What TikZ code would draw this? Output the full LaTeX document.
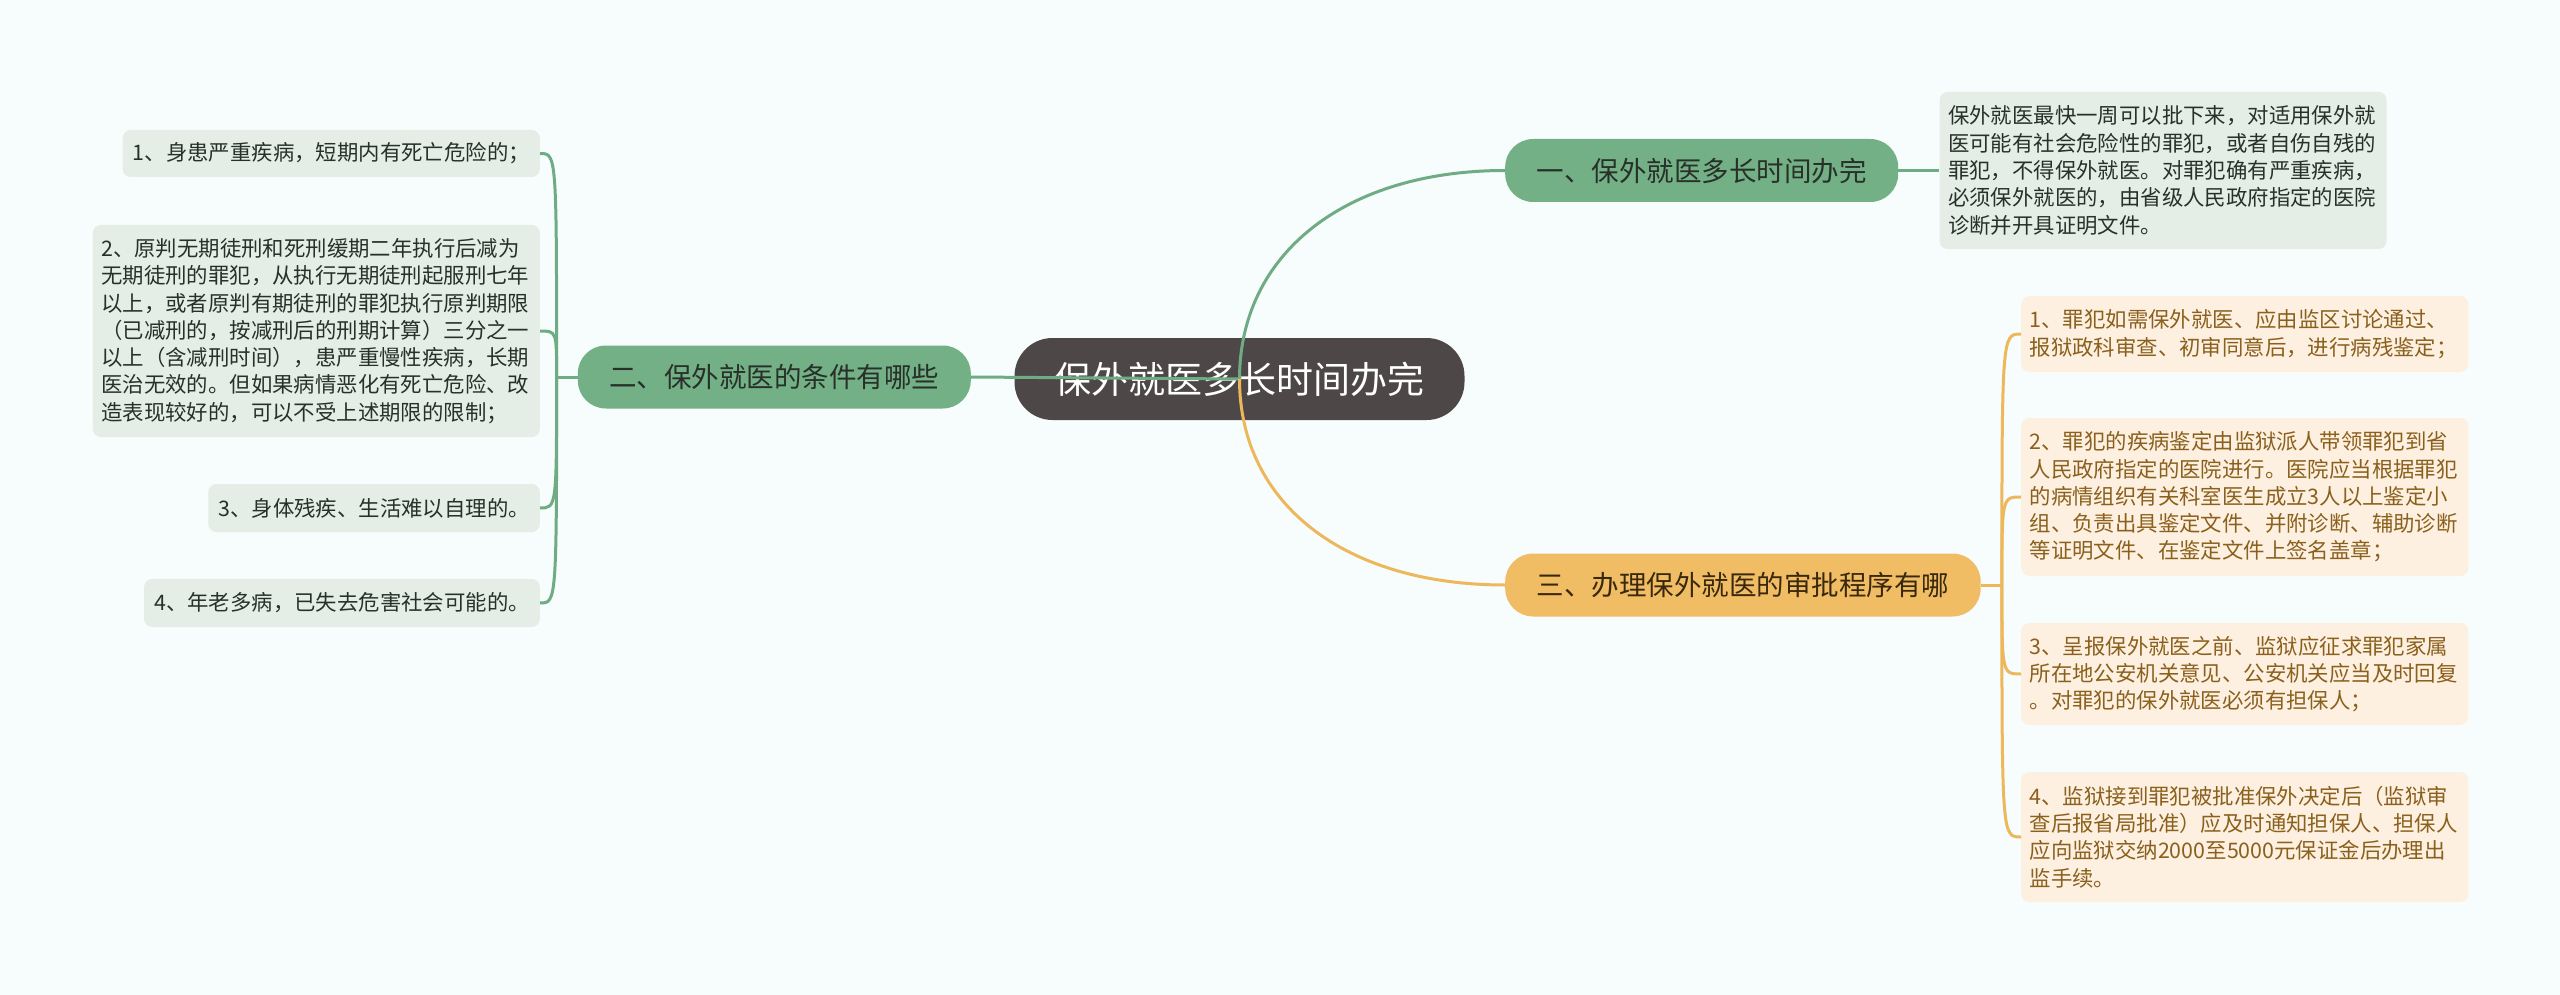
\documentclass[tikz,border=0pt]{standalone}
\usepackage{fontspec}
\newfontfamily\cjk{Noto Sans CJK SC}
\usepackage{tikz}
\usetikzlibrary{positioning}

\definecolor{bgcol}{RGB}{247,252,252}
\definecolor{rootfill}{RGB}{77,72,71}
\definecolor{gfill}{RGB}{116,176,134}
\definecolor{gline}{RGB}{112,172,131}
\definecolor{gsoft}{RGB}{228,238,231}
\definecolor{gtext}{RGB}{40,48,42}
\definecolor{ofill}{RGB}{240,189,100}
\definecolor{oline}{RGB}{237,184,92}
\definecolor{osoft}{RGB}{253,240,225}
\definecolor{otext}{RGB}{138,96,28}

\begin{document}
\begin{tikzpicture}[
    x=1pt, y=-1pt,
    root/.style={rectangle, fill=rootfill, rounded corners=38pt, minimum height=82pt,
                 inner xsep=40pt, text=white, font=\cjk\fontsize{37}{44}\selectfont},
    gbranch/.style={rectangle, fill=gfill, rounded corners=28pt, minimum height=63pt,
                    inner xsep=31.5pt, text=gtext, font=\cjk\fontsize{27.5}{33}\selectfont},
    obranch/.style={gbranch, fill=ofill, text={rgb,255:red,58;green,40;blue,12}},
    gitem/.style={rectangle, fill=gsoft, rounded corners=8pt, inner xsep=10pt,
                  inner ysep=0pt, text=gtext, align=left,
                  font=\cjk\fontsize{21.4}{27.3}\selectfont},
    gpara/.style={gitem, text width=430pt, inner xsep=8.5pt},
    opara/.style={gpara, fill=osoft, text=otext},
    glink/.style={draw=gline, line width=3pt},
    olink/.style={draw=oline, line width=3pt},
]
\fill[bgcol] (0,0) rectangle (2560,995);
\useasboundingbox (0,0) rectangle (2560,995);

\node[root] (main) at (1239.5,379) {保外就医多长时间办完};

\node[gbranch, anchor=west] (one) at (1505,170.5) {一、保外就医多长时间办完};
\node[gpara, minimum height=157pt, right=41pt of one] (onenote) {保外就医最快一周可以批下来，对适用保外就\\医可能有社会危险性的罪犯，或者自伤自残的\\罪犯，不得保外就医。对罪犯确有严重疾病，\\必须保外就医的，由省级人民政府指定的医院\\诊断并开具证明文件。};

\node[gbranch, anchor=east] (two) at (971,377) {二、保外就医的条件有哪些};
\node[gitem, minimum height=47pt, anchor=east] (cond1) at (540,153.5) {1、身患严重疾病，短期内有死亡危险的；};
\node[gpara, minimum height=212pt, anchor=east] (cond2) at (540,331) {2、原判无期徒刑和死刑缓期二年执行后减为\\无期徒刑的罪犯，从执行无期徒刑起服刑七年\\以上，或者原判有期徒刑的罪犯执行原判期限\\（已减刑的，按减刑后的刑期计算）三分之一\\以上（含减刑时间），患严重慢性疾病，长期\\医治无效的。但如果病情恶化有死亡危险、改\\造表现较好的，可以不受上述期限的限制；};
\node[gitem, minimum height=48pt, anchor=east] (cond3) at (540,508) {3、身体残疾、生活难以自理的。};
\node[gitem, minimum height=48pt, anchor=east] (cond4) at (540,603) {4、年老多病，已失去危害社会可能的。};

\node[obranch, anchor=west] (three) at (1505,585) {三、办理保外就医的审批程序有哪};
\node[opara, minimum height=76pt, anchor=west] (step1) at (2021,334) {1、罪犯如需保外就医、应由监区讨论通过、\\报狱政科审查、初审同意后，进行病残鉴定；};
\node[opara, minimum height=158pt, anchor=west] (step2) at (2021,497) {2、罪犯的疾病鉴定由监狱派人带领罪犯到省\\人民政府指定的医院进行。医院应当根据罪犯\\的病情组织有关科室医生成立3人以上鉴定小\\组、负责出具鉴定文件、并附诊断、辅助诊断\\等证明文件、在鉴定文件上签名盖章；};
\node[opara, minimum height=102pt, anchor=west] (step3) at (2021,674) {3、呈报保外就医之前、监狱应征求罪犯家属\\所在地公安机关意见、公安机关应当及时回复\\。对罪犯的保外就医必须有担保人；};
\node[opara, minimum height=130pt, anchor=west] (step4) at (2021,837) {4、监狱接到罪犯被批准保外决定后（监狱审\\查后报省局批准）应及时通知担保人、担保人\\应向监狱交纳2000至5000元保证金后办理出\\监手续。};

\coordinate[left=21pt of two] (ltrunk);
\coordinate[right=21pt of three] (rtrunk);

\draw[glink] (main.center) -- (two.east);
\draw[glink] (main.center) .. controls +(0,-125) and +(-160,0) .. (one.west);
\draw[olink] (main.center) .. controls +(0,125) and +(-160,0) .. (three.west);
\draw[glink] (one) -- (onenote);

\draw[glink] (two.west) -- (ltrunk);
\foreach \c in {cond1,cond2,cond3,cond4}
  \draw[glink] (ltrunk) .. controls (ltrunk |- \c.east) .. (\c.east);
\draw[olink] (three.east) -- (rtrunk);
\foreach \s in {step1,step2,step3,step4}
  \draw[olink] (rtrunk) .. controls (rtrunk |- \s.west) .. (\s.west);
\end{tikzpicture}
\end{document}
